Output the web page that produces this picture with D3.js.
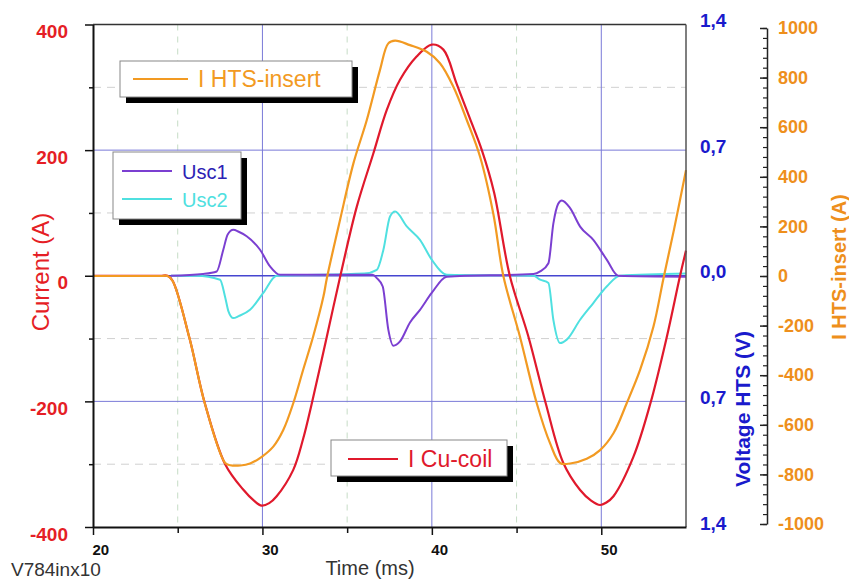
<!DOCTYPE html>
<html><head><meta charset="utf-8">
<script src="https://cdn.jsdelivr.net/npm/d3@7"></script>
<style>
html,body{margin:0;padding:0;background:#fff;}
svg{display:block;font-family:"Liberation Sans",Arial,sans-serif;}
</style></head>
<body><svg id="c" width="849" height="580"></svg>
<script>
// ---- data (time in ms) ----
const cuCoil = [[20,0],[21,0],[22,0],[23,0],[24,0],[24.4,0],[24.7,-8],[25.7,-100],[26.6,-203],[27.8,-300],[28.85,-340],[29.5,-358],[29.96,-366],[30.4,-362],[30.84,-351],[31.82,-309],[32.4,-260],[32.9,-205],[33.8,-97],[34.6,0],[35.57,110],[36.55,195],[37.34,264],[38.12,312],[39.1,349],[39.99,368],[40.68,360],[41.47,305],[42.25,250],[42.95,200],[43.67,133],[44.6,0],[45.7,-97],[46.72,-203],[47.76,-298],[48.75,-341],[49.4,-358],[49.93,-365],[50.3,-361],[50.72,-351],[51.9,-288],[52.9,-203],[53.87,-97],[54.65,0],[55,40]];
const htsInsert = [[20,0],[21,0],[22,0],[23,0],[24,0],[24.4,0],[24.7,-20],[25.7,-252],[26.6,-514],[27.8,-754],[28.1,-763],[28.7,-764],[29.27,-756],[29.96,-729],[30.64,-688],[31.23,-621],[31.82,-513],[32.4,-379],[32.99,-245],[33.6,-83],[33.8,-10],[34.58,226],[35.37,454],[36.16,629],[36.94,831],[37.43,938],[37.83,949],[38.71,931],[39.7,904],[40.48,858],[41.27,763],[42.06,629],[42.85,480],[43.63,250],[44.22,0],[45.2,-245],[46.19,-513],[46.98,-675],[47.57,-754],[48.16,-756],[49.14,-737],[49.93,-702],[50.72,-634],[51.5,-513],[52.29,-379],[53.08,-204],[53.67,-10],[54.3,190],[55,427]];
const usc1 = [[24.6,0],[26.5,0.01],[27.3,0.024],[27.69,0.145],[27.95,0.23],[28.28,0.256],[28.6,0.245],[29.07,0.22],[29.86,0.145],[30.45,0.052],[31.04,0.005],[36.5,0.005],[36.75,-0.013],[37.1,-0.06],[37.43,-0.3],[37.73,-0.39],[38.12,-0.366],[38.71,-0.26],[39.3,-0.19],[39.99,-0.096],[40.88,-0.005],[46.0,0.01],[46.39,0.024],[46.88,0.07],[47.17,0.29],[47.45,0.40],[47.67,0.42],[48.16,0.377],[48.75,0.274],[49.53,0.2],[50.32,0.09],[51.0,0],[55,-0.005]];
const usc2 = [[24.6,0],[26.1,0],[27.5,-0.022],[27.79,-0.115],[28.0,-0.2],[28.28,-0.236],[28.6,-0.225],[29.27,-0.19],[30.05,-0.096],[30.84,0],[36.0,0.012],[36.75,0.033],[37.14,0.145],[37.53,0.33],[37.83,0.358],[38.52,0.275],[39.3,0.2],[39.99,0.09],[40.88,0.006],[46.0,0],[46.39,-0.022],[46.88,-0.04],[47.17,-0.245],[47.57,-0.375],[47.96,-0.356],[48.75,-0.245],[49.53,-0.152],[50.32,-0.06],[51.1,0],[55,0.012]];

const timeTicks = [20,30,40,50];
const timeMinorTicks = [25,35,45];
const currentTicks = [-400,-200,0,200,400];
const currentMinorTicks = [-300,-100,100,300];
const voltageTicks = [1.4,0.7,0,-0.7,-1.4];
const voltageTickLabels = ["1,4","0,7","0,0","0,7","1,4"];
const htsTicks = [-1000,-800,-600,-400,-200,0,200,400,600,800,1000];
const htsMinorTicks = d3.range(-1000,1001,40);

// ---- scales ----
const svg = d3.select("#c");
const x = d3.scaleLinear([20,55],[93,686]);
const yL = d3.scaleLinear([-400,400],[527,24.5]);
const yV = d3.scaleLinear([-1.4,1.4],[527,24.5]);
const yO = d3.scaleLinear([-1000,1000],[524,28]);
const plain = d => String(d);

const RED="#e0192c", ORANGE="#f29a22", PURPLE="#7b3fd1", CYAN="#4fe0e0";
const LRED="#e51e25", BLUE="#1a1acc", LORANGE="#ee8f1c";
const FONT="Liberation Sans, Arial, sans-serif";

// ---- grid ----
const g = svg.append("g");
g.selectAll(".vd").data(timeMinorTicks).join("line")
  .attr("x1",d=>x(d)).attr("x2",d=>x(d)).attr("y1",yL(400)).attr("y2",yL(-400))
  .attr("stroke","#c6dcc6").attr("stroke-dasharray","6,6").attr("stroke-width",1);
g.selectAll(".hd").data(currentMinorTicks).join("line")
  .attr("x1",x(20)).attr("x2",x(55)).attr("y1",d=>yL(d)).attr("y2",d=>yL(d))
  .attr("stroke","#d0d0d0").attr("stroke-dasharray","8,6").attr("stroke-width",1);
g.selectAll(".vs").data([30,40,50]).join("line")
  .attr("x1",d=>x(d)).attr("x2",d=>x(d)).attr("y1",yL(400)).attr("y2",yL(-400))
  .attr("stroke","#7a7ad8").attr("stroke-width",1);
g.selectAll(".hs").data([200,0,-200]).join("line")
  .attr("x1",x(20)).attr("x2",x(55)).attr("y1",d=>yL(d)).attr("y2",d=>yL(d))
  .attr("stroke",d=>d===0?"#4646d0":"#7a7ad8").attr("stroke-width",d=>d===0?1.5:1);

// ---- curves ----
const smooth = d3.curveCatmullRom.alpha(0.5);
const lineL = d3.line().x(d=>x(d[0])).y(d=>yL(d[1])).curve(smooth);
const lineV = d3.line().x(d=>x(d[0])).y(d=>yV(d[1])).curve(d3.curveMonotoneX);
const lineO = d3.line().x(d=>x(d[0])).y(d=>yO(d[1])).curve(smooth);
svg.append("path").attr("d",lineV(usc2)).attr("fill","none").attr("stroke",CYAN).attr("stroke-width",2);
svg.append("path").attr("d",lineV(usc1)).attr("fill","none").attr("stroke",PURPLE).attr("stroke-width",2);
svg.append("path").attr("d",lineL(cuCoil)).attr("fill","none").attr("stroke",RED).attr("stroke-width",2.2);
svg.append("path").attr("d",lineO(htsInsert)).attr("fill","none").attr("stroke",ORANGE).attr("stroke-width",2.2);

// ---- frame ----
svg.append("line").attr("x1",x(20)).attr("x2",x(55)).attr("y1",yL(400)).attr("y2",yL(400)).attr("stroke","#333").attr("stroke-width",1.5);
svg.append("line").attr("x1",x(55)).attr("x2",x(55)).attr("y1",yL(400)).attr("y2",yL(-400)).attr("stroke","#555").attr("stroke-width",1.5);

// ---- left axis ----
const axL = svg.append("g").attr("transform",`translate(${x(20)},0)`)
  .call(d3.axisLeft(yL).tickValues(currentTicks).tickFormat(plain).tickSizeInner(8).tickSizeOuter(0).tickPadding(17));
axL.select(".domain").attr("stroke","#111").attr("stroke-width",2);
axL.selectAll(".tick line").attr("stroke","#111").attr("stroke-width",1.5);
axL.selectAll("text").attr("fill",LRED).attr("font-size",19).attr("font-weight","bold")
  .attr("font-family",FONT).attr("transform","translate(0,7)");
svg.append("g").attr("transform",`translate(${x(20)},0)`)
  .call(d3.axisLeft(yL).tickValues(currentMinorTicks).tickSize(4).tickFormat(""))
  .call(s=>{s.select(".domain").remove(); s.selectAll("line").attr("stroke","#111").attr("stroke-width",1.5);});

// ---- bottom axis ----
const axB = svg.append("g").attr("transform",`translate(0,${yL(-400)})`)
  .call(d3.axisBottom(x).tickValues(timeTicks).tickFormat(plain).tickSizeInner(8).tickSizeOuter(0));
axB.select(".domain").attr("stroke","#111").attr("stroke-width",2);
axB.selectAll(".tick line").attr("stroke","#111").attr("stroke-width",1.5);
axB.selectAll("text").attr("fill","#111").attr("font-size",15).attr("font-weight","bold")
  .attr("font-family",FONT).attr("text-anchor","start")
  .attr("x",-1).attr("y",17);
svg.append("g").attr("transform",`translate(0,${yL(-400)})`)
  .call(d3.axisBottom(x).tickValues(timeMinorTicks).tickSize(6).tickFormat(""))
  .call(s=>{s.select(".domain").remove(); s.selectAll("line").attr("stroke","#111").attr("stroke-width",1.5);});

// ---- voltage axis (labels only) ----
const axV = svg.append("g").attr("transform",`translate(${x(55)},0)`)
  .call(d3.axisRight(yV).tickValues(voltageTicks).tickSize(0).tickPadding(14)
    .tickFormat((d,i)=>voltageTickLabels[i]));
axV.select(".domain").remove();
axV.selectAll("text").attr("fill",BLUE).attr("font-size",19).attr("font-weight","bold")
  .attr("font-family",FONT).attr("transform","translate(0,-4)");

// ---- HTS current axis ----
const axO = svg.append("g").attr("transform","translate(767,0)")
  .call(d3.axisRight(yO).tickValues(htsTicks).tickFormat(plain).tickSizeInner(-7).tickSizeOuter(0).tickPadding(11));
axO.select(".domain").attr("stroke","#222").attr("stroke-width",1.5);
axO.selectAll(".tick line").attr("stroke","#222").attr("stroke-width",1.5);
axO.selectAll("text").attr("fill",LORANGE).attr("font-size",18).attr("font-weight","bold")
  .attr("font-family",FONT);
svg.append("g").attr("transform","translate(767,0)")
  .call(d3.axisRight(yO).tickValues(htsMinorTicks).tickSize(-4).tickFormat(""))
  .call(s=>{s.select(".domain").remove(); s.selectAll("line").attr("stroke","#222").attr("stroke-width",1.2);});

// ---- titles ----
svg.append("text").attr("transform","translate(40,272) rotate(-90)").attr("text-anchor","middle")
  .attr("dominant-baseline","central").attr("fill",LRED).attr("font-size",24).text("Current (A)");
svg.append("text").attr("transform","translate(742,409) rotate(-90)").attr("text-anchor","middle")
  .attr("dominant-baseline","central").attr("fill",BLUE).attr("font-size",21).attr("font-weight","bold").text("Voltage HTS (V)");
svg.append("text").attr("transform","translate(839,267) rotate(-90)").attr("text-anchor","middle")
  .attr("dominant-baseline","central").attr("fill",LORANGE).attr("font-size",20).attr("font-weight","bold").text("I HTS-insert (A)");
svg.append("text").attr("x",370).attr("y",575).attr("text-anchor","middle").attr("fill","#333")
  .attr("font-size",20).text("Time (ms)");
svg.append("text").attr("x",11).attr("y",576).attr("fill","#333").attr("font-size",19).text("V784inx10");

// ---- legends ----
function legendBox(bx,by,bw,bh){
  svg.append("rect").attr("x",bx+6).attr("y",by+6).attr("width",bw).attr("height",bh).attr("fill","#000");
  svg.append("rect").attr("x",bx).attr("y",by).attr("width",bw).attr("height",bh).attr("fill","#fff").attr("stroke","#888").attr("stroke-width",1);
}
function legendItem(x1,x2,ly,color,txt,tcolor,fs){
  svg.append("line").attr("x1",x1).attr("x2",x2).attr("y1",ly).attr("y2",ly).attr("stroke",color).attr("stroke-width",2);
  svg.append("text").attr("x",x2+10).attr("y",ly+8).attr("fill",tcolor).attr("font-size",fs).text(txt);
}
legendBox(120,61,232,36);
legendItem(133,188,79,ORANGE,"I HTS-insert",ORANGE,23);
legendBox(113,152,128,67);
legendItem(122,172,171,PURPLE,"Usc1","#2c22b4",20);
legendItem(122,172,199,CYAN,"Usc2",CYAN,20);
legendBox(331,440,176,36);
legendItem(348,398,459,RED,"I Cu-coil",RED,23);
</script></body></html>
